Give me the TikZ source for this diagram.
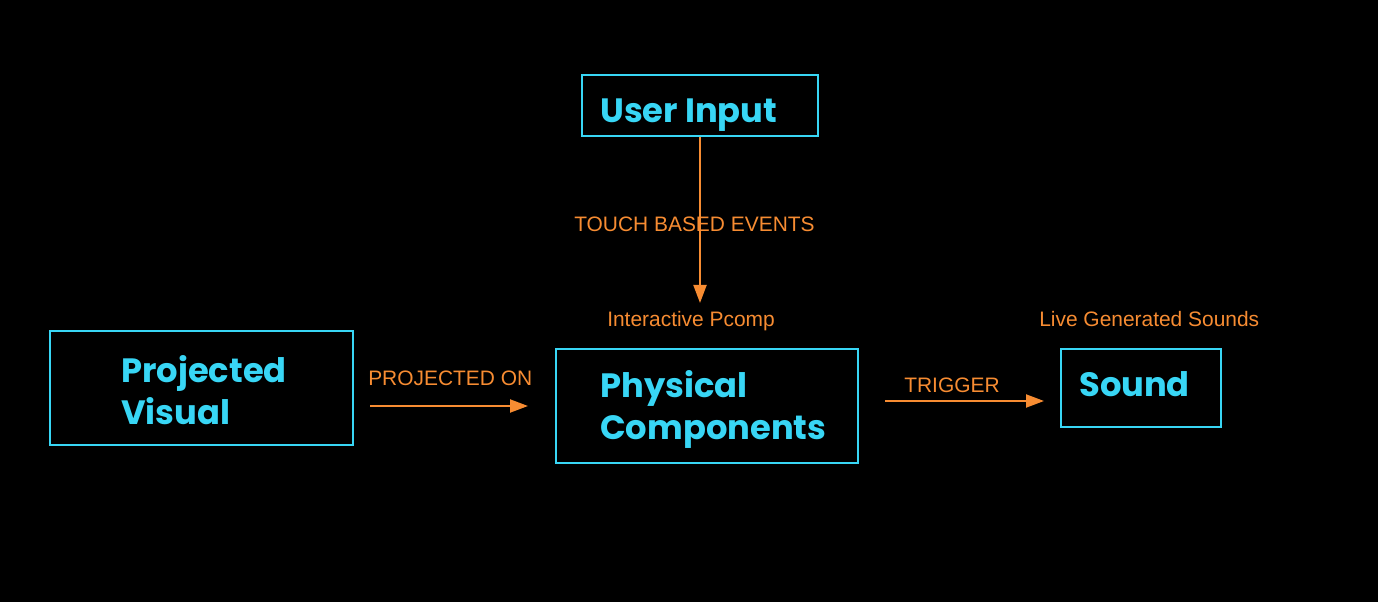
\documentclass[tikz,border=0pt]{standalone}
\usepackage{fontspec}
\setmainfont{Liberation Sans}
\newfontfamily\cajafont{Poppins}
\usetikzlibrary{arrows.meta}
\definecolor{mycyan}{RGB}{56, 214, 245}
\definecolor{myorange}{RGB}{247, 140, 50}

\begin{document}
\begin{tikzpicture}[x=0.75pt, y=-0.75pt,
    caja/.style={draw=mycyan, line width=1.5pt, inner sep=0pt},
    titulo/.style={text=mycyan, align=left, inner sep=0pt, anchor=base west,
        font=\cajafont\bfseries\fontsize{25.3}{31.5}\selectfont},
    etiqueta/.style={text=myorange, inner sep=0pt, anchor=base west, font=\fontsize{15.7}{18}\selectfont},
    flecha/.style={draw=myorange, line width=1.5pt, -{Triangle[length=13.5pt, width=9.75pt]}}]

    % --- Fondo (fija el marco de la imagen) ---
    \fill[black] (0,0) rectangle (1378,602);

    % --- Cajas ---
    \node[caja, minimum width=177pt, minimum height=45.75pt] (usuario) at (700,105.5) {};
    \node[caja, minimum width=227.25pt, minimum height=85.5pt] (visual) at (201.5,388) {};
    \node[caja, minimum width=226.5pt, minimum height=85.5pt] (fisico) at (707,406) {};
    \node[caja, minimum width=120pt, minimum height=58.5pt] (sonido) at (1141,388) {};

    % --- Textos de las cajas (base = ultima linea) ---
    \node[titulo] (tUsuario) at (600,123) {User Input};
    \node[titulo] (tVisual) at (121,424) {Projected\\Visual};
    \node[titulo] (tFisico) at (600,439) {Physical\\Components};
    \node[titulo] (tSonido) at (1079,396) {Sound};

    % --- Etiquetas ---
    \node[etiqueta] (toque) at (574,232) {TOUCH BASED EVENTS};
    \node[etiqueta] (pcomp) at (607,327) {Interactive Pcomp};
    \node[etiqueta] (proyectado) at (368,385) {PROJECTED ON};
    \node[etiqueta] (disparo) at (904,392) {TRIGGER};
    \node[etiqueta] (sonidos) at (1039,327) {Live Generated Sounds};

    % --- Flechas ---
    \coordinate (finToque) at (700,303);
    \coordinate (iniProy) at (370,406);
    \coordinate (finProy) at (528,406);
    \coordinate (iniDisp) at (885,401);
    \coordinate (finDisp) at (1044,401);

    \draw[flecha] (usuario) -- (finToque);
    \draw[flecha] (iniProy) -- (finProy);
    \draw[flecha] (iniDisp) -- (finDisp);

\end{tikzpicture}
\end{document}
